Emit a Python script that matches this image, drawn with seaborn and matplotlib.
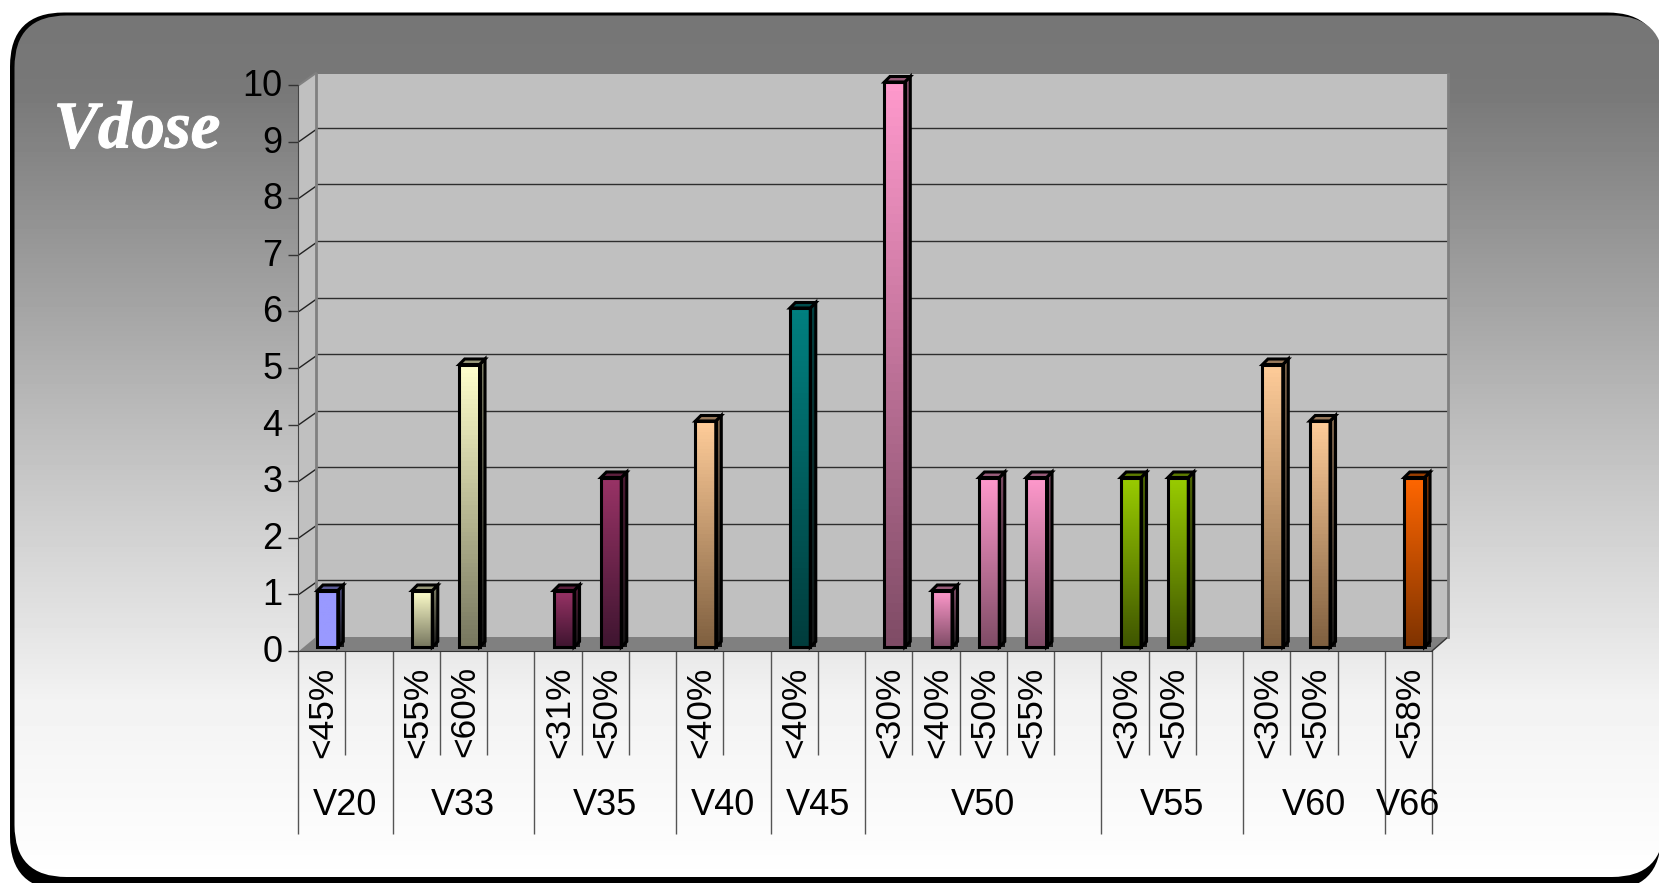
import numpy as np
import pandas as pd
import matplotlib
matplotlib.use("Agg")
import matplotlib.pyplot as plt
import matplotlib.patheffects as pe
from matplotlib.colors import LinearSegmentedColormap, to_rgb
from matplotlib.patches import FancyBboxPatch, Polygon
from matplotlib.transforms import ScaledTranslation
import seaborn as sns

# one slot per label, blank slots are the gaps between groups
slot_labels = ["<45%", "", "<55%", "<60%", "", "<31%", "<50%", "", "<40%", "", "<40%", "",
               "<30%", "<40%", "<50%", "<55%", "", "<30%", "<50%", "", "<30%", "<50%", "", "<58%"]
slot_values = [1, 0, 1, 5, 0, 1, 3, 0, 4, 0, 6, 0, 10, 1, 3, 3, 0, 3, 3, 0, 5, 4, 0, 3]
group_names = ["V20", "V33", "V35", "V40", "V45", "V50", "V55", "V60", "V66"]
group_sizes = [2, 3, 3, 2, 2, 5, 3, 3, 1]
group_top = ["#9999ff", "#ffffcc", "#993366", "#ffcc99", "#008080", "#ff99cc", "#99cc00", "#ffcc99", "#ff6600"]
group_bottom = ["#9999ff", "#77775f", "#3f1530", "#7f6040", "#003c3c", "#7f4c66", "#3f5500", "#7f6040", "#7f3300"]

W, H = 1659, 883
sns.set_style("white")
plt.rcParams["font.family"] = ["Liberation Sans", "DejaVu Sans"]

fig = plt.figure(figsize=(W / 100, H / 100), dpi=100, facecolor="white")


def px_axes(x0, y_top, x1, y_bottom, **kw):
    return fig.add_axes([x0 / W, 1 - y_bottom / H, (x1 - x0) / W, (y_bottom - y_top) / H], **kw)


def rounded(x0, y0, x1, y1, r, **kw):
    return FancyBboxPatch((x0 + r, y0 + r), x1 - x0 - 2 * r, y1 - y0 - 2 * r,
                          boxstyle=f"round,pad={r},rounding_size={r}", **kw)


# panel background, in pixel coordinates
bg = px_axes(0, 0, W, H)
bg.set_xlim(0, W)
bg.set_ylim(H, 0)
bg.axis("off")
bg.add_patch(rounded(10, 12.5, 1661, 890, 54, fc="black", ec="none"))
panel = rounded(14.5, 15.5, 1664, 877, 52, fc="none", ec="none")
bg.add_patch(panel)
ramp = np.interp(np.arange(H), [0, 90, 400, 700, 883], [0.46, 0.47, 0.72, 0.95, 1.0]).reshape(-1, 1)
im = bg.imshow(ramp, cmap="gray", vmin=0, vmax=1, extent=(0, W, H, 0), aspect="auto", zorder=1)
im.set_clip_path(panel)
bg.set_xlim(0, W)
bg.set_ylim(H, 0)

# side wall and floor of the 3D box
bg.add_patch(Polygon([(299, 85), (316, 73), (316, 638), (299, 651)], fc="#c0c0c0", ec="none", zorder=2))
bg.add_patch(Polygon([(299, 651), (316, 637), (1448, 637), (1432, 651)], fc="#808080", ec="none", zorder=2))
bg.plot([299, 316], [85, 73], color="#808080", lw=1.5, zorder=3)
bg.plot([1432, 1448], [651, 637], color="#333333", lw=1, zorder=3)
bg.text(137, 131, "Vdose", color="white", fontsize=48, family="Liberation Serif", weight="bold", style="italic",
        ha="center", va="center", zorder=4, path_effects=[pe.withStroke(linewidth=0.8, foreground="white")])

# back wall
wall = px_axes(316, 74, 1448, 637)
wall.set_facecolor("#c0c0c0")
wall.set_ylim(0, 9.95)
wall.set_xlim(0, 24)
wall.set_yticks(range(1, 10))
wall.set_xticks([])
wall.set_yticklabels([])
wall.tick_params(left=False)
wall.grid(axis="y", color="#2e2e2e", lw=1)
for name, sp in wall.spines.items():
    sp.set_visible(name in ("left", "right"))
    sp.set_color("#808080")
    sp.set_linewidth(2)

# front plane, carries the axis ticks and labels
ax = px_axes(298, 85, 1432, 651)
ax.patch.set_alpha(0)
ax.set_xlim(0, 24)
ax.set_ylim(0, 10)
ax.spines["top"].set_visible(False)
ax.spines["right"].set_visible(False)
ax.spines["left"].set_color("#444444")
ax.spines["bottom"].set_color("#333333")
ax.set_yticks(range(0, 11))
ax.tick_params(axis="y", left=True, length=7, width=1, color="#333333", labelsize=26, pad=4, labelcolor="black")
for t in ax.get_yticklabels():
    t.set_transform(t.get_transform() + ScaledTranslation(0, 2.5 / 100, fig.dpi_scale_trans))

edges = np.cumsum([0] + group_sizes)
major = list(edges)
minor = [i for i in range(1, 24) if i not in major]
ax.set_xticks(major)
ax.set_xticks(minor, minor=True)
ax.set_xticklabels([])
ax.tick_params(axis="x", which="major", bottom=True, length=132, width=1, color="#555555")
ax.tick_params(axis="x", which="minor", bottom=True, length=75, width=1, color="#555555")

# little diagonal ticks between front axis and back wall
for v in range(1, 10):
    y_px = H - ax.transData.transform((0, v))[1]
    bg.plot([299, 316], [y_px, y_px - 12], color="#222222", lw=1, zorder=3)

for i, lab in enumerate(slot_labels):
    if lab:
        ax.annotate(lab, xy=(i + 0.5, 0), xytext=(1, -11), textcoords="offset points", rotation=90,
                    ha="center", va="top", fontsize=25.5, color="black", annotation_clip=False)
for name, a, b in zip(group_names, edges[:-1], edges[1:]):
    ax.annotate(name, xy=((a + b) / 2, 0), xytext=(0, -111), textcoords="offset points",
                ha="center", va="center", fontsize=26, color="black", annotation_clip=False)

# bars sit a little inside the box, so their plane is nudged up and to the right
bar_ax = px_axes(304, 82, 1438, 647)
bar_ax.patch.set_alpha(0)

slot_group = np.repeat(np.arange(len(group_names)), group_sizes)
df = pd.DataFrame({"pos": np.arange(24) + 0.5, "val": slot_values, "group": slot_group})
df = df[df["val"] > 0]
sns.barplot(data=df, x="pos", y="val", native_scale=True, width=0.43, color="white", ax=bar_ax,
            edgecolor="black", linewidth=2.2, errorbar=None)
bar_ax.set_xlim(0, 24)
bar_ax.set_ylim(0, 10)
bar_ax.axis("off")

dx = 5.5 / (1134 / 24)
dy = 5.5 / (565 / 10)
for patch, (_, row) in zip(bar_ax.patches, df.iterrows()):
    x0, x1 = patch.get_x(), patch.get_x() + patch.get_width()
    y1 = patch.get_height()
    g = int(row["group"])
    top_rgb = np.array(to_rgb(group_top[g]))
    cmap = LinearSegmentedColormap.from_list("b", [group_bottom[g], group_top[g]])
    dark = LinearSegmentedColormap.from_list("d", ["#141414", top_rgb * 0.5])
    ys = np.linspace(1, 0, 64).reshape(-1, 1)
    side = Polygon([(x1, 0), (x1 + dx, dy), (x1 + dx, y1 + dy), (x1, y1)], fc="none", ec="black", lw=2.2, zorder=4,
                   clip_on=False)
    bar_ax.add_patch(side)
    s_im = bar_ax.imshow(ys, cmap=dark, vmin=0, vmax=1, extent=(x1, x1 + dx, 0, y1 + dy), aspect="auto", zorder=3,
                         clip_on=False)
    s_im.set_clip_path(side)
    bar_ax.add_patch(Polygon([(x0, y1), (x0 + dx, y1 + dy), (x1 + dx, y1 + dy), (x1, y1)], fc=top_rgb * 0.6, ec="black",
                             lw=2.2, zorder=4, clip_on=False))
    bar_ax.imshow(ys, cmap=cmap, vmin=0, vmax=1, extent=(x0, x1, 0, y1), aspect="auto", zorder=3)
    patch.set_facecolor("none")
    patch.set_zorder(5)
    patch.set_clip_path(None)
    patch.set_clip_on(False)
bar_ax.set_xlim(0, 24)
bar_ax.set_ylim(0, 10)

fig.savefig("out.png", dpi=100)
